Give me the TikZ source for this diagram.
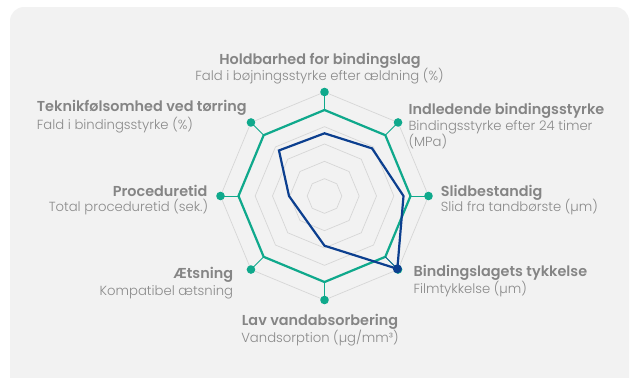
\documentclass[tikz,border=0pt]{standalone}
\usepackage{fontspec}
\setmainfont{Poppins}
\newfontfamily\titlefont{Poppins SemiBold}
\newfontfamily\subfont{Poppins Light}
\definecolor{bggray}{HTML}{F2F2F2}
\definecolor{gridgray}{HTML}{D6D6D6}
\definecolor{radgreen}{HTML}{0FA98C}
\definecolor{radblue}{HTML}{0C3F8F}
\definecolor{txtgray}{HTML}{858585}
\definecolor{subgray}{HTML}{8A8A8A}
\tikzset{
  ttl/.style={inner sep=0pt, text=txtgray, font=\titlefont\fontsize{14.4}{16}\selectfont},
  sub/.style={inner sep=0pt, text=subgray, font=\subfont\fontsize{13.2}{15}\selectfont},
  gridline/.style={draw=gridgray, line width=0.7pt},
  greenpoly/.style={draw=radgreen, line width=2.2pt, line join=miter},
  bluepoly/.style={draw=radblue, line width=2.2pt, line join=miter},
  spoke/.style={draw=radgreen, line width=0.9pt},
  gdot/.style={circle, fill=radgreen, inner sep=0pt, minimum size=8.6pt},
  bdot/.style={circle, fill=radblue, inner sep=0pt, minimum size=9pt},
}
\begin{document}
\begin{tikzpicture}[x=1pt, y=-1pt]
\useasboundingbox (0,0) rectangle (630,378);
\begin{scope}
\clip (0,0) rectangle (630,378);
\fill[bggray, rounded corners=14pt] (10,7) rectangle (629,400);
\end{scope}
\begin{scope}[shift={(324.5,196)}]
  % grid rings
  \foreach \k in {1,...,6} {
    \draw[gridline] (90:\k*17.333pt) -- (45:\k*17.333pt) -- (0:\k*17.333pt) -- (-45:\k*17.333pt)
      -- (-90:\k*17.333pt) -- (-135:\k*17.333pt) -- (180:\k*17.333pt) -- (135:\k*17.333pt) -- cycle;
  }
  % green polygon vertices and outer dots
  \foreach \a/\n in {90/1, 45/2, 0/3, -45/4, -90/5, -135/6, 180/7, 135/8} {
    \coordinate (g\n) at (\a:86pt);
    \node[gdot] (d\n) at (\a:104pt) {};
  }
  \foreach \n in {1,...,8} { \draw[spoke] (g\n) -- (d\n.center); }
  \draw[greenpoly] (g1) -- (g2) -- (g3) -- (g4) -- (g5) -- (g6) -- (g7) -- (g8) -- cycle;
  % blue polygon
  \coordinate (b1) at (90:62.7pt);
  \coordinate (b2) at (45:67.3pt);
  \coordinate (b3) at (0:79pt);
  \coordinate (b4) at (-45:103pt);
  \coordinate (b5) at (-90:49.7pt);
  \coordinate (b6) at (-135:29.3pt);
  \coordinate (b7) at (180:35.5pt);
  \coordinate (b8) at (135:64.4pt);
  \draw[radblue, line width=0.7pt] (g4) -- (b4);
  \draw[bluepoly] (b1) -- (b2) -- (b3) -- (b4) -- (b5) -- (b6) -- (b7) -- (b8) -- cycle;
  \node[bdot] (bd4) at (b4) {};
\end{scope}
% labels
\node[ttl, anchor=base] (t1) at (320,64) {Holdbarhed for bindingslag};
\node[sub, anchor=base] (s1) at (319.5,80) {Fald i bøjningsstyrke efter ældning (\%)};
\node[ttl, anchor=base west] (t2) at (408.3,114) {Indledende bindingsstyrke};
\node[sub, anchor=base west] (s2) at (408.3,130) {Bindingsstyrke efter 24 timer};
\node[sub, anchor=base west] (s2b) at (408.3,146.5) {(MPa)};
\node[ttl, anchor=base west] (t3) at (440.7,196.5) {Slidbestandig};
\node[sub, anchor=base west] (s3) at (440.7,211.7) {Slid fra tandbørste (µm)};
\node[ttl, anchor=base west] (t4) at (413.3,276.7) {Bindingslagets tykkelse};
\node[sub, anchor=base west] (s4) at (413.3,293.3) {Filmtykkelse (µm)};
\node[ttl, anchor=base] (t5) at (320,325) {Lav vandabsorbering};
\node[sub, anchor=base] (s5) at (320,342.7) {Vandsorption (µg/mm³)};
\node[ttl, anchor=base east] (t6) at (233.3,278.3) {Ætsning};
\node[sub, anchor=base east] (s6) at (233.3,295) {Kompatibel ætsning};
\node[ttl, anchor=base east] (t7) at (207.7,196) {Proceduretid};
\node[sub, anchor=base east] (s7) at (208.3,211.7) {Total proceduretid (sek.)};
\node[ttl, anchor=base west] (t8) at (36.7,111.7) {Teknikfølsomhed ved tørring};
\node[sub, anchor=base west] (s8) at (36.7,129) {Fald i bindingsstyrke (\%)};
\end{tikzpicture}
\end{document}
